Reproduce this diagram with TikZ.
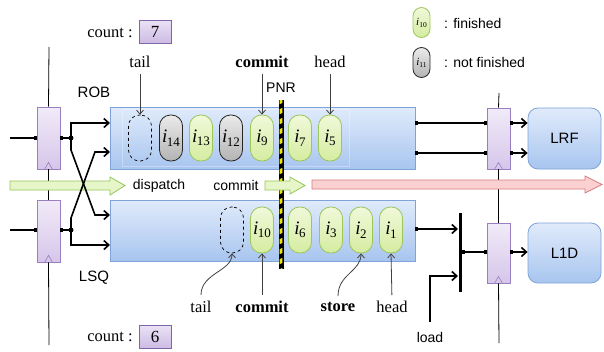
\documentclass[tikz,border=0pt]{standalone}
\usepackage{fontspec}
\setmainfont{Liberation Serif}
\newfontfamily\arialf{Liberation Sans}
\usetikzlibrary{arrows.meta}
\definecolor{regfillA}{HTML}{F1EBF8}
\definecolor{regfillB}{HTML}{D6C6EA}
\definecolor{regdraw}{HTML}{9A7FC0}
\definecolor{boxA}{HTML}{E0EBFB}
\definecolor{boxB}{HTML}{A8C5EF}
\definecolor{boxdraw}{HTML}{7EA3D8}
\definecolor{capA}{HTML}{F0F9DA}
\definecolor{capB}{HTML}{D5ECA0}
\definecolor{capdraw}{HTML}{9CC55A}
\definecolor{grayA}{HTML}{EBEBEB}
\definecolor{grayB}{HTML}{B3B3B3}
\definecolor{garA}{HTML}{E6F6C8}
\definecolor{gardraw}{HTML}{97C45C}
\definecolor{rarA}{HTML}{FAD0D0}
\definecolor{rardraw}{HTML}{D77B7B}
\definecolor{cntA}{HTML}{EAE2F5}
\definecolor{cntB}{HTML}{CDBBE4}
\definecolor{cntdraw}{HTML}{8066A8}
\definecolor{hazy}{HTML}{F2E600}
\newcommand{\capi}[1]{{\fontsize{19}{19}\selectfont\itshape i}\kern-0.5pt\raisebox{-3.5pt}{\fontsize{13}{13}\selectfont #1}}
\newcommand{\capj}[1]{{\fontsize{11}{11}\selectfont\itshape i}\raisebox{-2pt}{\fontsize{7.5}{7.5}\selectfont #1}}
\begin{document}
\begin{tikzpicture}[x=1pt,y=-1pt,
  reg/.style={draw=regdraw, line width=0.8pt, top color=regfillA, bottom color=regfillB, minimum width=23pt, minimum height=62pt, inner sep=0pt},
  queue/.style={draw=boxdraw, line width=0.8pt, top color=boxA, bottom color=boxB, inner sep=0pt, minimum width=305pt, minimum height=62pt},
  mem/.style={draw=boxdraw, line width=0.8pt, rounded corners=10pt, top color=boxA, bottom color=boxB, minimum width=73pt, minimum height=61pt, inner sep=0pt, font=\arialf\fontsize{15}{15}\selectfont},
  fin/.style={draw=capdraw, line width=0.8pt, top color=capA, bottom color=capB, rounded corners=11pt, minimum width=23pt, minimum height=46pt, inner sep=0pt},
  nfin/.style={draw=black!85, line width=0.8pt, top color=grayA, bottom color=grayB, rounded corners=11pt, minimum width=23pt, minimum height=46pt, inner sep=0pt},
  emptyc/.style={draw=black, dashed, line width=0.7pt, rounded corners=11pt, minimum width=23pt, minimum height=46pt, inner sep=0pt},
  small/.style={minimum width=17pt, minimum height=30pt, rounded corners=8.5pt},
  cnt/.style={draw=cntdraw, line width=0.8pt, top color=cntA, bottom color=cntB, minimum width=32pt, minimum height=23pt, inner sep=0pt, font=\fontsize{17}{17}\selectfont},
  serl/.style={font=\fontsize{16.5}{16.5}\selectfont, inner sep=1pt},
  sanl/.style={font=\arialf\fontsize{14}{14}\selectfont, inner sep=1pt},
  wire/.style={line width=1.6pt, black},
  wtip/.style={-{Straight Barb[length=5pt,width=9pt]}},
  sq/.style={{Square[length=3pt,width=4.5pt]}-},
  sqe/.style={-{Square[length=3pt,width=4.5pt]}},
  ptr/.style={draw=black!75, line width=0.8pt, -{Straight Barb[length=4pt,width=7pt]}},
  clk/.style={line width=0.8pt, black},
  tri/.style={draw=regdraw, line width=0.6pt}
]
\useasboundingbox (0,0) rectangle (604,351);

% clock lines
\coordinate (clkAt) at (49,47);
\coordinate (clkAb) at (49,345);
\coordinate (clkBt) at (499,93);
\coordinate (clkBb) at (499,343);

% registers
\node[reg] (rA) at (48.5,138) {};
\node[reg] (rB) at (48.5,231) {};
\node[reg, minimum height=61pt] (rC) at (498.5,138.5) {};
\node[reg, minimum height=60pt] (rD) at (498.5,253) {};
\draw[clk] (clkAt) -- (rA.north);
\draw[clk] (rA.south) -- (rB.north);
\draw[clk] (rB.south) -- (clkAb);
\draw[clk] (clkBt) -- (rC.north);
\draw[clk] (rC.south) -- (rD.north);
\draw[clk] (rD.south) -- (clkBb);
\foreach \r in {rA,rB,rC,rD}{
  \draw[tri] ([xshift=-4pt]\r.south) -- ([yshift=7pt]\r.south) -- ([xshift=4pt]\r.south);
}

% queues
\node[queue] (rob) at (262.5,138) {};
\node[queue, minimum height=61pt] (lsq) at (262.5,230.5) {};
\draw[white, opacity=0.3, line width=0.7pt] ([xshift=13pt,yshift=-3pt]rob.north west) rectangle ([xshift=-66pt,yshift=3pt]rob.south east);

% memory blocks
\node[mem] (lrf) at (564.5,138.5) {LRF};
\node[mem, minimum height=60pt] (l1d) at (564.5,253) {L1D};

% ROB entries
\node[emptyc] (tailR) at (140,138) {};
\node[nfin] (c14) at (171,138) {\capi{14}};
\node[fin]  (c13) at (201,138) {\capi{13}};
\node[nfin] (c12) at (231,138) {\capi{12}};
\node[fin]  (c9)  at (262,138) {\capi{9}};
\node[fin]  (c7)  at (300,138) {\capi{7}};
\node[fin]  (c5)  at (330,138) {\capi{5}};

% LSQ entries
\node[emptyc] (tailL) at (232,230) {};
\node[fin] (c10) at (262,230) {\capi{10}};
\node[fin] (c6)  at (300,230) {\capi{6}};
\node[fin] (c3)  at (331,230) {\capi{3}};
\node[fin] (c2)  at (361,230) {\capi{2}};
\node[fin] (c1)  at (391,230) {\capi{1}};

% PNR bar (hazard stripes)
\coordinate (pnrT) at (281,100);
\coordinate (pnrB) at (281,269);
\draw[line width=5pt, black] (pnrT) -- (pnrB);
\begin{scope}
  \clip (279.6,100.8) rectangle (282.4,268.2);
  \foreach \yy in {100,110,...,270}{
    \fill[hazy] (278,\yy) -- (284,\yy-3) -- (284,\yy+2) -- (278,\yy+5) -- cycle;
  }
\end{scope}
\node[sanl] (pnr) at (281,88) {PNR};

% flow arrows
\draw[draw=gardraw, fill=garA, line width=0.8pt] (10,181) -- (110,181) -- (110,177) -- (125,185.5) -- (110,195) -- (110,190) -- (10,190) -- cycle;
\draw[draw=gardraw, fill=garA, line width=0.8pt] (265,181) -- (290,181) -- (290,177) -- (305,185.5) -- (290,194) -- (290,190) -- (265,190) -- cycle;
\draw[draw=rardraw, fill=rarA, line width=0.8pt] (312,180) -- (585,180) -- (585,176) -- (602,184.5) -- (585,193) -- (585,189) -- (312,189) -- cycle;
\node[sanl] (disp) at (159,185.5) {dispatch};
\node[sanl] (cmid) at (236,185.5) {commit};

% left wiring
\coordinate (inA) at (10,138);
\coordinate (inB) at (10,230);
\coordinate (jA) at (71,138);
\coordinate (jB) at (71,230);
\coordinate (robI1) at (110,123);
\coordinate (robI2) at (110,152);
\coordinate (lsqI1) at (110,215);
\coordinate (lsqI2) at (110,245);
\coordinate (kA1) at (71,150);
\coordinate (kA2) at (95,215);
\coordinate (kB1) at (71,218);
\coordinate (kB2) at (95,152);
\draw[wire, sqe] (inA) -- (rA.west |- inA);
\draw[wire, sqe] (inB) -- (rB.west |- inB);
\draw[wire, sq] (rA.east |- jA) -- (jA);
\draw[wire, sq] (rB.east |- jB) -- (jB);
\fill (jA) circle (2.5pt);
\fill (jB) circle (2.5pt);
\draw[wire, wtip] (jA) |- (robI1);
\draw[wire, wtip] (jA) -- (kA1) -- (kA2) -- (lsqI1);
\draw[wire, wtip] (jB) |- (lsqI2);
\draw[wire, wtip] (jB) -- (kB1) -- (kB2) -- (robI2);

% right wiring
\coordinate (robO1) at (415,123);
\coordinate (robO2) at (415,153);
\draw[wire, {Square[length=3pt,width=4.5pt]}-{Square[length=3pt,width=4.5pt]}] (robO1) -- (rC.west |- robO1);
\draw[wire, {Square[length=3pt,width=4.5pt]}-{Square[length=3pt,width=4.5pt]}] (robO2) -- (rC.west |- robO2);
\draw[wire, {Square[length=3pt,width=4.5pt]}-{Straight Barb[length=5pt,width=9pt]}] (rC.east |- robO1) -- (lrf.west |- robO1);
\draw[wire, {Square[length=3pt,width=4.5pt]}-{Straight Barb[length=5pt,width=9pt]}] (rC.east |- robO2) -- (lrf.west |- robO2);

\coordinate (barT) at (460,213);
\coordinate (barB) at (460,292);
\draw[line width=3pt, black] (barT) -- (barB);
\coordinate (lsqO) at (415,229);
\coordinate (lsqOe) at (458,229);
\draw[wire, {Square[length=3pt,width=4.5pt]}-{Straight Barb[length=5pt,width=9pt]}] (lsqO) -- (lsqOe);
\coordinate (ld) at (430,322);
\coordinate (lde) at (458,276);
\draw[wire, wtip] (ld) |- (lde);
\node[sanl] (loadl) at (430,337) {load};
\coordinate (barO) at (461.5,252);
\draw[wire, {Square[length=3pt,width=4.5pt]}-{Square[length=3pt,width=4.5pt]}] (barO) -- (rD.west |- barO);
\draw[wire, {Square[length=3pt,width=4.5pt]}-{Straight Barb[length=5pt,width=9pt]}] (rD.east |- barO) -- (l1d.west |- barO);

% labels
\node[sanl, font=\arialf\fontsize{15}{15}\selectfont] (robl) at (94,92) {ROB};
\node[sanl, font=\arialf\fontsize{15}{15}\selectfont] (lsql) at (94,278) {LSQ};

\node[serl] (cntT) at (110,33) {count :};
\node[cnt] (cntR) at (155,31.5) {7};
\node[serl] (cntB) at (110,337) {count :};
\node[cnt] (cntL) at (155,336.5) {6};

\node[serl] (tTail) at (140,62) {tail};
\node[serl] (tCom) at (262,62) {\textbf{commit}};
\node[serl] (tHead) at (330,62) {head};
\draw[ptr, shorten <=5pt] (tTail.south) -- (tailR.north);
\draw[ptr, shorten <=5pt] (tCom.south) -- (c9.north);
\draw[ptr, shorten <=5pt] (tHead.south) -- (c5.north);

\node[serl] (bTail) at (201,307) {tail};
\node[serl] (bCom) at (262,307) {\textbf{commit}};
\node[serl] (bStore) at (338,307) {\textbf{store}};
\node[serl] (bHead) at (392,307) {head};
\draw[ptr] ([yshift=5pt]bTail.north) .. controls +(0,-22) and +(0,18) .. (tailL.south);
\draw[ptr, shorten <=5pt] (bCom.north) -- (c10.south);
\draw[ptr] ([yshift=5pt]bStore.north) .. controls +(0,-22) and +(0,18) .. (c2.south);
\draw[ptr, shorten <=5pt] (bHead.north) -- (c1.south);

% legend
\node[fin, small] (lg1) at (421.5,22.5) {\capj{10}};
\node[nfin, small] (lg2) at (421.5,62.5) {\capj{11}};
\node[sanl, anchor=west] (lgt1) at (443,23) {: finished};
\node[sanl, anchor=west] (lgt2) at (443,62) {: not finished};
\end{tikzpicture}
\end{document}
